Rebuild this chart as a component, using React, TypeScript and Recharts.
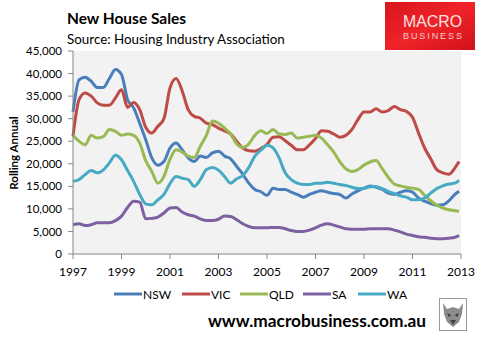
import React from "react";
import { LineChart, Line, XAxis, YAxis, CartesianGrid } from "recharts";

const years = [
  1997, 1997.25, 1997.5, 1997.75, 1998, 1998.25, 1998.5, 1998.75,
  1999, 1999.25, 1999.5, 1999.75, 2000, 2000.25, 2000.5, 2000.75,
  2001, 2001.25, 2001.5, 2001.75, 2002, 2002.25, 2002.5, 2002.75,
  2003, 2003.25, 2003.5, 2003.75, 2004, 2004.25, 2004.5, 2004.75,
  2005, 2005.25, 2005.5, 2005.75, 2006, 2006.25, 2006.5, 2006.75,
  2007, 2007.25, 2007.5, 2007.75, 2008, 2008.25, 2008.5, 2008.75,
  2009, 2009.25, 2009.5, 2009.75, 2010, 2010.25, 2010.5, 2010.75,
  2011, 2011.25, 2011.5, 2011.75, 2012, 2012.25, 2012.5, 2012.75, 2012.92,
];

const nsw = [
  31500, 38600, 39200, 38300, 36900, 36900, 38900, 40900,
  39800, 34200, 32400, 29000, 25300, 21300, 19700, 20500,
  23500, 24600, 23100, 21300, 20500, 21700, 21400, 22400,
  22800, 21700, 21100, 19400, 17700, 15700, 14300, 13800,
  13000, 14600, 14300, 14300, 13700, 13200, 12600, 13200,
  13700, 14000, 13700, 13400, 13200, 12400, 13300, 14000,
  14600, 15100, 14800, 14300, 13500, 13200, 13700, 14000,
  13700, 12400, 11700, 11200, 10800, 10900, 11800, 13200, 13900,
];

const vic = [
  26100, 34200, 35700, 35000, 33500, 33000, 33000, 34600,
  36400, 32500, 33600, 32000, 28100, 26800, 28300, 30000,
  36800, 38900, 36200, 32000, 30500, 30100, 29000, 28700,
  27900, 27300, 26600, 25000, 23500, 22900, 22800, 23400,
  24300, 25900, 26000, 25100, 24100, 23100, 23100, 24200,
  25600, 27300, 27200, 26600, 25900, 26300, 27600, 29800,
  31500, 31500, 32200, 31500, 31800, 32700, 32000, 31600,
  30300, 26800, 23500, 21100, 18700, 18000, 17700, 19100, 20500,
];

const qld = [
  26300, 25000, 24200, 26300, 25700, 26000, 27600, 27200,
  26300, 26600, 26300, 24600, 20700, 18300, 15700, 17200,
  21000, 23100, 22600, 21700, 21400, 23900, 26300, 29500,
  29000, 27900, 26600, 24400, 23600, 24400, 26300, 27300,
  26700, 27600, 26600, 26500, 26800, 25700, 25900, 26100,
  26300, 25700, 24200, 22600, 20500, 18900, 18300, 18700,
  19700, 20400, 20700, 18900, 17000, 15500, 15100, 14800,
  14600, 14300, 13000, 11800, 10800, 10200, 9800, 9600, 9500,
];

const sa = [
  6500, 6700, 6300, 6500, 6900, 6900, 6900, 7400,
  8400, 10300, 11700, 11500, 7800, 7900, 8200, 9100,
  10200, 10300, 9300, 8700, 8400, 7800, 7400, 7400,
  7700, 8400, 8300, 7600, 6700, 6100, 5800, 5800,
  5800, 5900, 5900, 5600, 5200, 5000, 5000, 5300,
  5800, 6400, 6700, 6400, 6000, 5600, 5500, 5500,
  5500, 5600, 5600, 5600, 5600, 5300, 4900, 4400,
  4100, 3800, 3700, 3500, 3400, 3400, 3500, 3700, 4100,
];

const wa = [
  16100, 16500, 17600, 18500, 18000, 18600, 20200, 21900,
  20900, 18500, 16100, 13200, 11100, 10900, 12000, 13200,
  15600, 17200, 16800, 16500, 15000, 16500, 18700, 19200,
  18600, 17200, 15700, 16700, 17400, 19200, 21700, 23000,
  24100, 23500, 21300, 18000, 16500, 15700, 15400, 15400,
  15700, 15700, 15900, 15700, 15400, 15200, 14800, 14500,
  14500, 14900, 14900, 14500, 13900, 13400, 12900, 12600,
  12000, 12000, 12400, 13500, 14500, 15100, 15500, 15700, 16300,
];

const seriesNames = ["NSW", "VIC", "QLD", "SA", "WA"];
const seriesColors = ["#4A7EBB", "#BE4B48", "#98B954", "#7D60A0", "#46AAC5"];
const seriesValues = [nsw, vic, qld, sa, wa];

const xTicks = [1997, 1999, 2001, 2003, 2005, 2007, 2009, 2011, 2013];
const yTicks = [0, 5000, 10000, 15000, 20000, 25000, 30000, 35000, 40000, 45000];

const titleText = "New House Sales";
const subtitleText = "Source: Housing Industry Association";
const yLabelText = "Rolling Annual";
const footerText = "www.macrobusiness.com.au";

const data = years.map((year, i) => {
  const row: Record<string, number> = { year };
  seriesNames.forEach((n, s) => {
    row[n] = seriesValues[s][i];
  });
  return row;
});

const FONT = "Lato, 'Open Sans', sans-serif";
const legendPos = [
  { line: 114, text: 143 },
  { line: 182, text: 211 },
  { line: 240, text: 269 },
  { line: 303, text: 332 },
  { line: 358, text: 387 },
];

export default function App() {
  return (
    <div
      style={{
        position: "absolute",
        left: 0,
        top: 0,
        width: 481,
        height: 338,
        background: "#fff",
        fontFamily: FONT,
      }}
    >
      <LineChart
        width={481}
        height={338}
        data={data}
        margin={{ top: 51, right: 20, bottom: 54, left: 13 }}
      >
        <CartesianGrid horizontal={false} vertical={false} fill="#F2F2F2" stroke="none" />
        <XAxis
          dataKey="year"
          type="number"
          domain={[1997, 2013]}
          ticks={xTicks}
          height={30}
          tickSize={5}
          tickMargin={8}
          stroke="#868686"
          tick={{ fill: "#000", fontSize: 12, fontFamily: FONT }}
          interval={0}
        />
        <YAxis
          domain={[0, 45000]}
          ticks={yTicks}
          width={60}
          tickSize={5}
          tickMargin={6}
          stroke="#868686"
          interval={0}
          tick={{ fill: "#000", fontSize: 11.5, fontFamily: FONT }}
          tickFormatter={(v: number) => v.toLocaleString("en-US")}
        />
        {seriesNames.map((n, s) => (
          <Line
            key={n}
            dataKey={n}
            stroke={seriesColors[s]}
            strokeWidth={3}
            dot={false}
            type="monotone"
            isAnimationActive={false}
          />
        ))}
      </LineChart>
      <svg
        width={481}
        height={338}
        style={{ position: "absolute", left: 0, top: 0, pointerEvents: "none" }}
      >
        <defs>
          <linearGradient id="logoGrad" x1="0" y1="0" x2="1" y2="1">
            <stop offset="0" stopColor="#D8141B" />
            <stop offset="0.5" stopColor="#F0232A" />
            <stop offset="1" stopColor="#D0121A" />
          </linearGradient>
        </defs>
        <text x={67} y={24} fontFamily={FONT} fontWeight="bold" fontSize={15.5} fill="#000">
          {titleText}
        </text>
        <text x={67} y={44} fontFamily={FONT} fontSize={13.4} fill="#000">
          {subtitleText}
        </text>
        <text
          transform="translate(18,153) rotate(-90)"
          textAnchor="middle"
          fontFamily={FONT}
          fontWeight="bold"
          fontSize={11.5}
          fill="#000"
        >
          {yLabelText}
        </text>
        <rect x={385} y={2} width={90} height={48} fill="url(#logoGrad)" />
        <text
          x={403}
          y={26.5}
          fontFamily="'Liberation Sans', Arial, sans-serif"
          fontSize={16}
          fill="#FBE3E3"
          textLength={59}
          lengthAdjust="spacingAndGlyphs"
        >
          MACRO
        </text>
        <text
          x={403}
          y={38.5}
          fontFamily="'Liberation Sans', Arial, sans-serif"
          fontSize={9}
          fill="#F7CACA"
          textLength={59}
          lengthAdjust="spacing"
        >
          BUSINESS
        </text>
        {seriesNames.map((n, s) => (
          <g key={n}>
            <line
              x1={legendPos[s].line}
              x2={legendPos[s].line + 28}
              y1={294}
              y2={294}
              stroke={seriesColors[s]}
              strokeWidth={3}
            />
            <text x={legendPos[s].text} y={298.5} fontFamily={FONT} fontSize={12} fill="#000">
              {n}
            </text>
          </g>
        ))}
        <text x={208} y={327} fontFamily={FONT} fontWeight="bold" fontSize={17.3} fill="#000">
          {footerText}
        </text>
        <rect x={439.5} y={298.5} width={27} height={32} fill="#fff" stroke="#9A9A9A" strokeWidth={1} />
        <path
          d="M443 303 L447 309 L453 307 L459 309 L463 303 L462 314 L459 322 L453 327 L447 322 L444 314 Z"
          fill="#8C8C8C"
        />
        <path d="M447 313 L451 315 L449 317 Z M459 313 L455 315 L457 317 Z" fill="#333" />
        <path d="M450 320 L456 320 L453 325 Z" fill="#444" />
      </svg>
    </div>
  );
}
